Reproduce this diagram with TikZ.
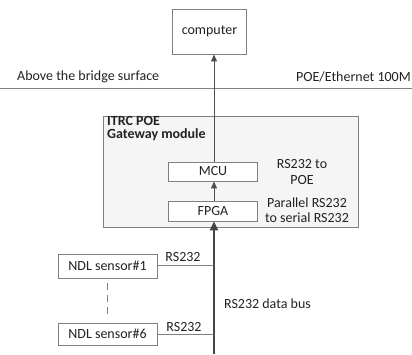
\documentclass[tikz,border=0pt]{standalone}
\usepackage{fontspec}
\setmainfont{Carlito}
\usetikzlibrary{arrows.meta}
\definecolor{lc}{HTML}{808080}
\definecolor{tc}{HTML}{222222}
\definecolor{bg}{HTML}{F5F5F5}
\begin{document}
\begin{tikzpicture}[x=1pt,y=-1pt,
  every node/.style={font=\fontsize{14}{15.5}\selectfont,text=tc,inner sep=0pt},
  box/.style={draw=lc,line width=0.9pt,fill=white},
  conn/.style={draw=lc,line width=0.9pt},
  arr/.style={draw=tc!80,line width=0.9pt,-{Triangle[length=7pt,width=6pt]}},
  lbl/.style={align=center}]
\useasboundingbox (0,0) rectangle (412,354);
% computer
\node[box,minimum width=74pt,minimum height=45pt] (comp) at (209.5,31.5) {computer};
% ground line
\coordinate (gl) at (0,88);
\coordinate (gr) at (412,88);
\draw[conn] (gl) -- (gr);
\node[anchor=west] (above) at (17,77) {Above the bridge surface};
\node[anchor=east] (poe) at (411,77) {POE/Ethernet 100M};
% gateway
\node[draw=lc,line width=0.9pt,fill=bg,minimum width=255pt,minimum height=111pt] (gw) at (230.5,171.5) {};
\node[anchor=north west,align=left,font=\fontsize{14}{13}\selectfont\bfseries] (gwl) at (107,116) {ITRC POE\\Gateway module};
\node[box,minimum width=89pt,minimum height=19pt] (mcu) at (213,171.5) {MCU};
\node[box,minimum width=89pt,minimum height=20pt] (fpga) at (213,211) {FPGA};
\node[lbl] (l1) at (302,172) {RS232 to\\POE};
\node[lbl] (l2) at (307,210) {Parallel RS232\\to serial RS232};
\draw[arr] (fpga.north -| 214,0) -- (mcu.south -| 214,0);
\draw[arr] (mcu.north -| 214,0) -- (comp.south -| 214,0);
% sensors
\node[box,minimum width=99pt,minimum height=24pt] (s1) at (107.5,266) {NDL sensor\#1};
\node[box,minimum width=99pt,minimum height=22pt] (s6) at (107.5,334) {NDL sensor\#6};
\coordinate (bb) at (214,354);
\coordinate (b1) at (214,265);
\coordinate (b6) at (214,334);
\draw[line width=2.8pt,draw=tc!85,-{Triangle[length=9pt,width=8pt]}] (bb) -- (fpga.south -| bb);
\draw[conn] (s1.east |- b1) -- (b1);
\draw[conn] (s6.east |- b6) -- (b6);
\node (r1) at (183,257) {RS232};
\node (r6) at (184,327) {RS232};
\draw[conn,dash pattern=on 7pt off 5pt] (107,283) -- (107,316);
\node (bus) at (267.5,304) {RS232 data bus};
\end{tikzpicture}
\end{document}
